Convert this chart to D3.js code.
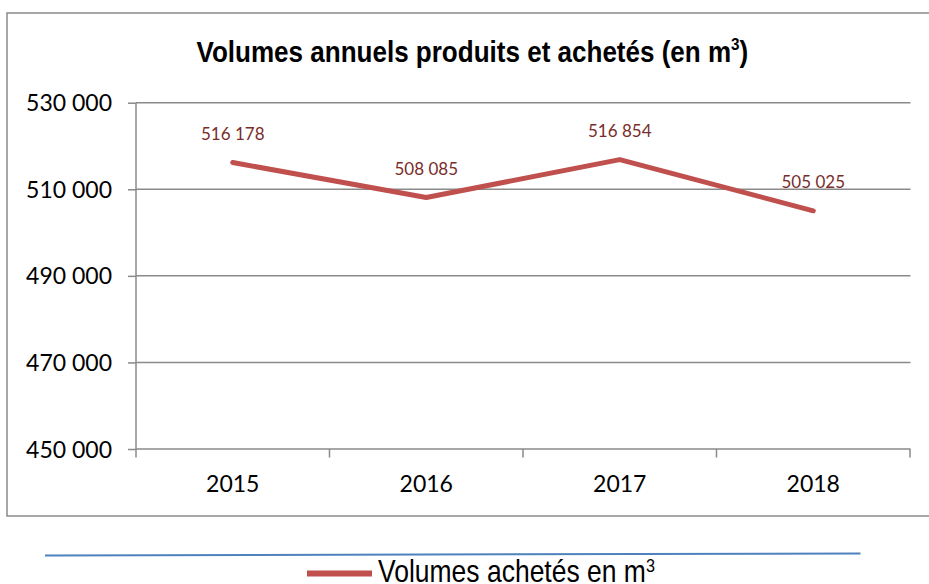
<!DOCTYPE html>
<html>
<head>
<meta charset="utf-8">
<script src="https://cdn.jsdelivr.net/npm/d3@7"></script>
<style>
  html, body { margin: 0; padding: 0; background: #fff; }
  svg { display: block; }
</style>
</head>
<body>
<svg id="chart" width="929" height="584"></svg>
<script>
// ---- data ----
const years = ["2015", "2016", "2017", "2018"];
const volumes = [516178, 508085, 516854, 505025];
const yTickValues = [450000, 470000, 490000, 510000, 530000];
const titleMain = "Volumes annuels produits et achetés (en m";
const titleSup = "3";
const titleEnd = ")";
const legendLabel = "Volumes achetés en m";
const legendSup = "3";

const frLocale = d3.formatLocale({ decimal: ",", thousands: " ", grouping: [3], currency: ["", " €"] });
const fmt = frLocale.format(",d");

const svg = d3.select("#chart");
const gridColor = "#8a8a8a";
const lineColor = "#C0504D";
const labelColor = "#7a2d2b";
const bodyFont = "Lato, 'Open Sans', sans-serif";
const narrowFont = "'Liberation Sans Narrow', 'Arial Narrow', 'Liberation Sans', Arial, sans-serif";

// outer chart border (left, top, bottom; right runs off the picture)
svg.append("path")
  .attr("d", "M935,13 H7 V516 H935")
  .attr("fill", "none")
  .attr("stroke", gridColor)
  .attr("stroke-width", 1.5);

// scales
const x = d3.scaleBand().domain(years).range([136, 910]).paddingInner(0).paddingOuter(0);
const y = d3.scaleLinear().domain([450000, 530000]).range([449, 102.7]);

// gridlines
svg.append("g").selectAll("line")
  .data(yTickValues.filter(v => v !== 450000))
  .join("line")
  .attr("x1", 136).attr("x2", 910.5)
  .attr("y1", d => y(d)).attr("y2", d => y(d))
  .attr("stroke", gridColor).attr("stroke-width", 1.5);

// y axis
const yAxis = svg.append("g")
  .attr("transform", "translate(136,0)")
  .call(d3.axisLeft(y).tickValues(yTickValues).tickFormat(fmt).tickSize(8).tickSizeOuter(0).tickPadding(16));
yAxis.select(".domain").attr("stroke", gridColor).attr("stroke-width", 1.5)
  .attr("d", `M0,${y(530000)}V457.5`);
yAxis.selectAll(".tick line").attr("stroke", gridColor).attr("stroke-width", 1.5);
yAxis.selectAll(".tick text")
  .attr("font-family", bodyFont).attr("font-size", 23).attr("fill", "#000")
  .attr("dy", null).attr("dominant-baseline", null)
  .attr("y", 8);

// x axis
const xAxis = svg.append("g")
  .attr("transform", `translate(0,${y(450000)})`)
  .call(d3.axisBottom(x).tickSize(0).tickSizeOuter(0).tickPadding(26));
xAxis.select(".domain").attr("stroke", gridColor).attr("stroke-width", 1.5)
  .attr("d", `M136,0H910.5`);
xAxis.selectAll(".tick text")
  .attr("font-family", bodyFont).attr("font-size", 23).attr("fill", "#000")
  .attr("dy", null).attr("y", 43);
// category boundary ticks
const boundaries = years.map(d => x(d)).concat([x(years[years.length - 1]) + x.bandwidth()]);
xAxis.selectAll(".bnd").data(boundaries.slice(1)).join("line")
  .attr("class", "bnd")
  .attr("x1", d => d).attr("x2", d => d)
  .attr("y1", 0).attr("y2", 8.5)
  .attr("stroke", gridColor).attr("stroke-width", 1.5);

// series line
const pts = years.map((yr, i) => ({ yr, v: volumes[i] }));
const line = d3.line().x(d => x(d.yr) + x.bandwidth() / 2).y(d => y(d.v));
svg.append("path")
  .datum(pts)
  .attr("d", line)
  .attr("fill", "none")
  .attr("stroke", lineColor)
  .attr("stroke-width", 5)
  .attr("stroke-linejoin", "round")
  .attr("stroke-linecap", "round");

// data labels
svg.append("g").selectAll("text")
  .data(pts)
  .join("text")
  .attr("x", d => x(d.yr) + x.bandwidth() / 2)
  .attr("y", d => y(d.v) - 23)
  .attr("text-anchor", "middle")
  .attr("font-family", bodyFont)
  .attr("font-size", 17)
  .attr("fill", labelColor)
  .text(d => fmt(d.v));

// helper: fit a text horizontally between x0 and x1
function fitText(sel, x0, x1) {
  const bb = sel.node().getBBox();
  const sx = (x1 - x0) / bb.width;
  sel.attr("transform", `translate(${x0},0) scale(${sx},1) translate(${-bb.x},0)`);
}

// title
const title = svg.append("text")
  .attr("x", 0).attr("y", 61.7)
  .attr("font-family", narrowFont)
  .attr("font-weight", "bold")
  .attr("font-size", 29)
  .attr("fill", "#000");
title.append("tspan").text(titleMain);
title.append("tspan").attr("font-size", 17).attr("dy", -11.5).text(titleSup);
title.append("tspan").attr("dy", 11.5).text(titleEnd);
fitText(title, 196.5, 748.5);

// separator line above legend
svg.append("line")
  .attr("x1", 45).attr("y1", 555.5)
  .attr("x2", 860.5).attr("y2", 553.5)
  .attr("stroke", "#4F81BD")
  .attr("stroke-width", 2);

// legend
svg.append("line")
  .attr("x1", 307).attr("x2", 372)
  .attr("y1", 573.5).attr("y2", 573.5)
  .attr("stroke", lineColor)
  .attr("stroke-width", 6);
const leg = svg.append("text")
  .attr("x", 0).attr("y", 582)
  .attr("font-family", narrowFont)
  .attr("font-size", 31)
  .attr("fill", "#000");
leg.append("tspan").text(legendLabel);
leg.append("tspan").attr("font-size", 19).attr("dy", -10).text(legendSup);
fitText(leg, 378, 655);
</script>
</body>
</html>
